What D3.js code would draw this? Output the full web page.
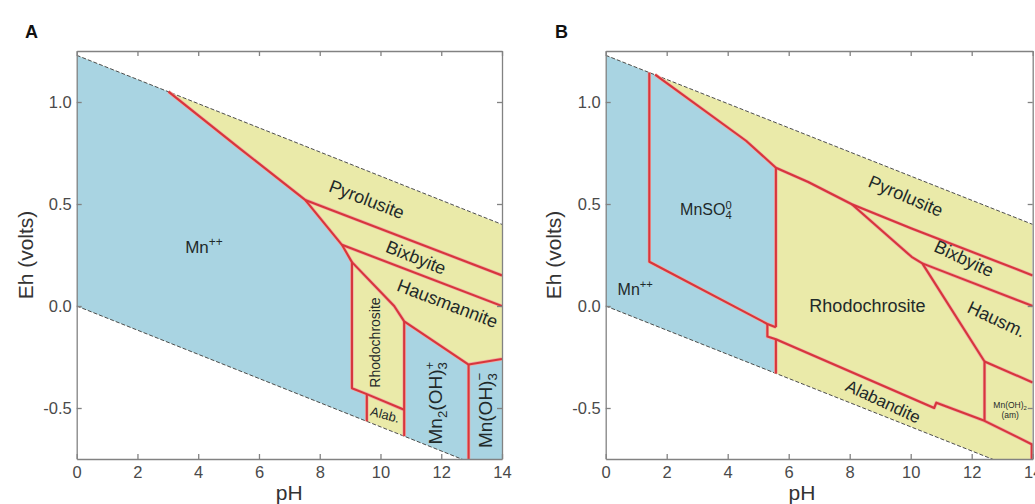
<!DOCTYPE html>
<html><head><meta charset="utf-8">
<script src="https://cdn.jsdelivr.net/npm/d3@7"></script>
<style>
html,body{margin:0;padding:0;background:#fff;}
svg{display:block;font-family:"Liberation Sans",Arial,Helvetica,sans-serif;}
</style></head><body>
<svg id="chart" width="1035" height="504"></svg>
<script>
// ---------- data ----------
const phTicks = [0, 2, 4, 6, 8, 10, 12, 14];
const ehTicks = [-0.5, 0.0, 0.5, 1.0];
const phDomain = [0, 14];
const ehDomain = [-0.75, 1.25];

// water stability limits (Eh in volts vs pH)
const waterUpper = [[0, 1.229], [14, 0.400]];
const waterLower = [[0, 0.0], [14, -0.829]];
const waterField = [[0, 1.229], [14, 0.400], [14, -0.829], [0, 0.0]];

// Panel A: aqueous (blue) fields
const aMn = [[0, 1.229], [3.02, 1.051], [5.3, 0.78], [7.52, 0.52], [8.73, 0.30], [9.06, 0.215],
             [9.06, -0.403], [9.55, -0.432], [9.55, -1.0], [0, -1.0]];
const aMn2OH3 = [[10.78, -0.075], [12.9, -0.287], [12.9, -1.0], [10.78, -1.0]];
const aMnOH3 = [[12.9, -0.287], [14, -0.26], [14, -1.0], [12.9, -1.0]];

// Panel A: field boundaries (red)
const aLine1 = [[3.02, 1.051], [5.3, 0.78], [7.52, 0.52], [8.73, 0.30], [9.06, 0.215], [9.06, -0.403],
                [9.55, -0.432], [10.78, -0.509]];
const aLine2 = [[9.55, -0.432], [9.55, -0.565]];
const aLine3 = [[10.78, -0.075], [10.78, -0.638]];
const aLine4 = [[7.52, 0.52], [14, 0.15]];
const aLine5 = [[8.73, 0.30], [14, 0.0]];
const aLine6 = [[9.06, 0.215], [10.45, 0.0], [10.78, -0.075], [12.9, -0.287], [14, -0.26]];
const aLine7 = [[12.9, -0.287], [12.9, -0.76]];

// Panel B: aqueous (blue) fields
const bMn = [[0, 1.229], [1.43, 1.145], [1.43, 0.217], [5.30, -0.088], [5.30, -0.150], [5.58, -0.163],
             [5.58, -1.0], [0, -1.0]];
const bMnSO4 = [[1.43, 1.25], [1.62, 1.134], [4.6, 0.81], [5.58, 0.678], [5.58, -0.104], [5.30, -0.088],
                [1.43, 0.217]];

// Panel B: field boundaries (red)
const bLine1 = [[1.43, 1.145], [1.43, 0.217], [5.30, -0.088], [5.58, -0.104]];
const bLine2 = [[1.62, 1.134], [4.6, 0.81], [5.58, 0.678], [6.64, 0.608], [8.07, 0.499], [10.03, 0.38], [14, 0.15]];
const bLine3 = [[5.58, 0.678], [5.58, -0.104]];
const bLine4 = [[5.30, -0.088], [5.30, -0.150], [5.58, -0.163], [10.77, -0.50], [10.84, -0.474],
                [12.42, -0.563], [14, -0.68]];
const bLine5 = [[5.58, -0.163], [5.58, -0.331]];
const bLine6 = [[8.07, 0.499], [10.03, 0.241], [10.38, 0.209], [12.42, -0.272], [12.42, -0.563]];
const bLine7 = [[10.38, 0.209], [14, 0.0]];
const bLine8 = [[12.42, -0.272], [14, -0.375]];
const bLine9 = [[13.97, -0.68], [13.97, -0.76]];

// Field labels: [pH, Eh, rich text parts]
const aLabels = [
  [3.57, 0.26, [{t: "Mn"}, {t: "++", sup: true}]],
  [9.55, 0.523, [{t: "Pyrolusite"}]],
  [11.17, 0.238, [{t: "Bixbyite"}]],
  [12.21, 0.013, [{t: "Hausmannite"}]],
  [9.83, -0.179, [{t: "Rhodochrosite"}]],
  [10.15, -0.533, [{t: "Alab."}]],
  [11.80, -0.476, [{t: "Mn"}, {t: "2", sub: true}, {t: "(OH)"}, {t: "+", sup: true}, {t: "3", sub: true, stack: true}]],
  [13.45, -0.512, [{t: "Mn(OH)"}, {t: "\u2212", sup: true}, {t: "3", sub: true, stack: true}]]
];
const bLabels = [
  [2.44, 0.445, [{t: "MnSO"}, {t: "0", sup: true}, {t: "4", sub: true, stack: true}]],
  [0.39, 0.054, [{t: "Mn"}, {t: "++", sup: true}]],
  [9.84, 0.54, [{t: "Pyrolusite"}]],
  [11.75, 0.233, [{t: "Bixbyite"}]],
  [8.58, 0.0, [{t: "Rhodochrosite"}]],
  [12.82, -0.064, [{t: "Hausm."}]],
  [9.10, -0.468, [{t: "Alabandite"}]],
  [13.26, -0.484, [{t: "Mn(OH)"}, {t: "2", sub: true}]],
  [13.26, -0.533, [{t: "(am)"}]]
];

// ---------- styles / layout ----------
const BLUE = "#a9d4e2", YELLOW = "#eaeaa9", RED = "#d7363c", FRAME = "#828282";
const aStyle = [
  {anchor: "start", rot: 0, size: 17},
  {anchor: "middle", rot: 21, size: 18},
  {anchor: "middle", rot: 22, size: 18},
  {anchor: "middle", rot: 21, size: 18},
  {anchor: "middle", rot: -90, size: 14},
  {anchor: "middle", rot: 15, size: 13},
  {anchor: "middle", rot: -90, size: 19},
  {anchor: "middle", rot: -90, size: 19}
];
const bStyle = [
  {anchor: "start", rot: 0, size: 16},
  {anchor: "start", rot: 0, size: 16},
  {anchor: "middle", rot: 23, size: 18},
  {anchor: "middle", rot: 25, size: 18},
  {anchor: "middle", rot: 0, size: 18},
  {anchor: "middle", rot: 25, size: 18},
  {anchor: "middle", rot: 25, size: 17},
  {anchor: "middle", rot: 0, size: 8.5},
  {anchor: "middle", rot: 0, size: 8.5}
];

const svg = d3.select("#chart");

function rich(textSel, parts, size) {
  let cur = 0, prev = null;
  parts.forEach(p => {
    const small = p.sup || p.sub;
    const target = p.sup ? -0.42 * size : (p.sub ? 0.26 * size : 0);
    const ts = textSel.append("tspan").text(p.t).attr("font-size", small ? 0.7 * size : size);
    if (target - cur !== 0) ts.attr("dy", target - cur);
    if (p.stack && prev) ts.attr("dx", -prev.node().getComputedTextLength());
    cur = target; prev = ts;
  });
}

function drawPanel(cfg) {
  const x = d3.scaleLinear().domain(phDomain).range([cfg.left, cfg.right]);
  const y = d3.scaleLinear().domain(ehDomain).range([cfg.bottom, cfg.top]);
  const line = d3.line().x(d => x(d[0])).y(d => y(d[1]));
  const g = svg.append("g");
  const defs = svg.append("defs");
  defs.append("clipPath").attr("id", cfg.id + "-rect")
    .append("rect").attr("x", cfg.left).attr("y", cfg.top)
    .attr("width", cfg.right - cfg.left).attr("height", cfg.bottom - cfg.top);
  defs.append("clipPath").attr("id", cfg.id + "-water")
    .append("path").attr("d", line(waterField) + "Z");

  const inner = g.append("g").attr("clip-path", `url(#${cfg.id}-rect)`);
  const wat = inner.append("g").attr("clip-path", `url(#${cfg.id}-water)`);
  wat.append("path").attr("d", line(waterField) + "Z").attr("fill", YELLOW);
  cfg.blue.forEach(p => wat.append("path").attr("d", line(p) + "Z").attr("fill", BLUE));

  [waterUpper, waterLower].forEach(w => inner.append("path").attr("d", line(w))
    .attr("fill", "none").attr("stroke", "#4d4d4d").attr("stroke-width", 1)
    .attr("stroke-dasharray", "4,2"));

  cfg.red.forEach(p => inner.append("path").attr("d", line(p))
    .attr("fill", "none").attr("stroke", "#f0a9a3").attr("stroke-width", 3.4)
    .attr("stroke-linejoin", "round"));
  cfg.red.forEach(p => inner.append("path").attr("d", line(p))
    .attr("fill", "none").attr("stroke", RED).attr("stroke-width", 2.1)
    .attr("stroke-linejoin", "round"));

  const font = '"Liberation Sans", Arial, sans-serif';
  const styleAxis = (ax) => {
    ax.attr("font-family", font).attr("font-size", 16.5);
    ax.select(".domain").attr("stroke", FRAME).attr("stroke-width", 1.3);
    ax.selectAll(".tick line").attr("stroke", FRAME).attr("stroke-width", 1.3);
    ax.selectAll(".tick text").attr("fill", "#4a4a4a");
  };
  styleAxis(g.append("g").attr("transform", `translate(0,${cfg.bottom})`)
    .call(d3.axisBottom(x).tickValues(phTicks).tickSize(-5).tickSizeOuter(0).tickPadding(7)
      .tickFormat(d => String(d))));
  styleAxis(g.append("g").attr("transform", `translate(${cfg.left},0)`)
    .call(d3.axisLeft(y).tickValues(ehTicks).tickSize(-5).tickSizeOuter(0).tickPadding(5)
      .tickFormat(d => d.toFixed(1))));
  styleAxis(g.append("g").attr("transform", `translate(0,${cfg.top})`)
    .call(d3.axisTop(x).tickValues(phTicks).tickSize(-5).tickSizeOuter(0).tickFormat(() => "")));
  styleAxis(g.append("g").attr("transform", `translate(${cfg.right},0)`)
    .call(d3.axisRight(y).tickValues(ehTicks).tickSize(-5).tickSizeOuter(0).tickFormat(() => "")));

  // field labels
  cfg.labels.forEach((L, i) => {
    const st = cfg.styles[i];
    const t = g.append("text")
      .attr("transform", `translate(${x(L[0])},${y(L[1])}) rotate(${st.rot})`)
      .attr("text-anchor", st.anchor)
      .attr("y", st.anchor === "start" ? 0 : 0.35 * st.size)
      .attr("fill", "#1f2a2a").attr("font-size", st.size);
    rich(t, L[2], st.size);
  });

  // axis titles
  g.append("text").attr("transform", `translate(${cfg.ehX},${(cfg.top + cfg.bottom) / 2}) rotate(-90)`)
    .attr("text-anchor", "middle").attr("font-size", 21).attr("fill", "#333").text("Eh (volts)");
  g.append("text").attr("x", cfg.phX).attr("y", 500)
    .attr("text-anchor", "middle").attr("font-size", 21).attr("fill", "#333").text("pH");
  g.append("text").attr("x", cfg.letterX).attr("y", 37.5)
    .attr("font-size", 18).attr("font-weight", "bold").attr("fill", "#111").text(cfg.letter);
}

drawPanel({id: "pa", left: 76.7, right: 502, top: 51, bottom: 459,
  blue: [aMn, aMn2OH3, aMnOH3],
  red: [aLine1, aLine2, aLine3, aLine4, aLine5, aLine6, aLine7],
  labels: aLabels, styles: aStyle, ehX: 33, phX: 289.3, letterX: 25, letter: "A"});
drawPanel({id: "pb", left: 605.7, right: 1032.7, top: 51, bottom: 459,
  blue: [bMn, bMnSO4],
  red: [bLine1, bLine2, bLine3, bLine4, bLine5, bLine6, bLine7, bLine8, bLine9],
  labels: bLabels, styles: bStyle, ehX: 561, phX: 802, letterX: 555, letter: "B"});
</script>
</body></html>
